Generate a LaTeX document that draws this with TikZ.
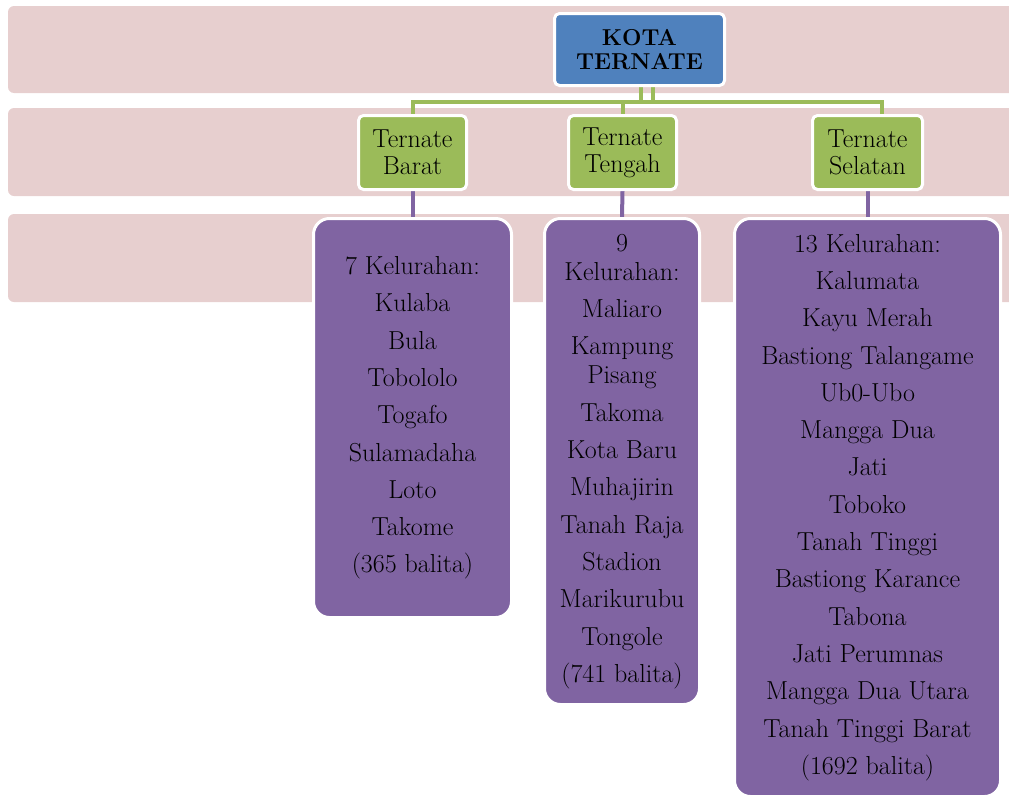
\documentclass[tikz,border=0pt]{standalone}
\usetikzlibrary{calc}
\definecolor{bandpink}{RGB}{231,207,207}
\definecolor{kotablue}{RGB}{79,129,189}
\definecolor{kecgreen}{RGB}{155,187,89}
\definecolor{kelpurple}{RGB}{128,100,162}
\pgfdeclarelayer{bands}
\pgfdeclarelayer{links}
\pgfsetlayers{bands,links,main}
\newcommand{\kbr}{\\[8.3pt]}
\tikzset{
	band/.style={fill=bandpink, rounded corners=6pt},
	kota/.style={draw=white, line width=3pt, fill=kotablue, rounded corners=5pt, align=center,
		font=\fontsize{23}{24.5}\selectfont\bfseries, minimum width=170pt, minimum height=72pt, inner sep=0pt},
	kec/.style={draw=white, line width=3pt, fill=kecgreen, rounded corners=5pt, align=center,
		font=\fontsize{26}{27}\selectfont, minimum width=108pt, minimum height=74pt, inner sep=0pt},
	kel/.style={draw=white, line width=3pt, fill=kelpurple, rounded corners=16pt, align=center,
		font=\fontsize{26}{29}\selectfont, inner sep=0pt},
	greenline/.style={draw=kecgreen, line width=4pt},
	purpleline/.style={draw=kelpurple, line width=4pt},
}

\begin{document}
\begin{tikzpicture}[x=1pt, y=-1pt]
	\useasboundingbox (0,0) rectangle (1009,798);
	\begin{pgfonlayer}{bands}
	\fill[band] (8,6) rectangle (1020,93);
	\fill[band] (8,108) rectangle (1020,196);
	\fill[band] (8,214) rectangle (1020,302);
	\end{pgfonlayer}
	%
	\node[kota] (kota) at (639.5,49.5) {KOTA\\TERNATE};
	%
	\node[kec] (barat) at (412.5,152.5) {Ternate\\Barat};
	\node[kec] (tengah) at (622.5,152.5) {Ternate\\Tengah};
	\node[kec, minimum width=110pt] (selatan) at (867.5,152.5) {Ternate\\Selatan};
	%
	\node[kel, minimum width=198pt, minimum height=399pt] (kelbarat) at (412.5,418) {7 Kelurahan:\kbr Kulaba\kbr Bula\kbr Tobololo\kbr Togafo\kbr Sulamadaha\kbr Loto\kbr Takome\kbr (365 balita)};
	\node[kel, minimum width=155pt, minimum height=486pt] (keltengah) at (622,461.5) {9\\Kelurahan:\kbr Maliaro\kbr Kampung\\Pisang\kbr Takoma\kbr Kota Baru\kbr Muhajirin\kbr Tanah Raja\kbr Stadion\kbr Marikurubu\kbr Tongole\kbr (741 balita)};
	\node[kel, minimum width=266pt, minimum height=578pt] (kelselatan) at (867.5,507.5) {13 Kelurahan:\kbr Kalumata\kbr Kayu Merah\kbr Bastiong Talangame\kbr Ub0-Ubo\kbr Mangga Dua\kbr Jati\kbr Toboko\kbr Tanah Tinggi\kbr Bastiong Karance\kbr Tabona\kbr Jati Perumnas\kbr Mangga Dua Utara\kbr Tanah Tinggi Barat\kbr (1692 balita)};
	%
	\coordinate (busL) at (412.5,102);
	\coordinate (busR) at (882,102);
	\begin{pgfonlayer}{links}
	\draw[greenline] (barat.north) -- (busL) -- (busR) -- (busR |- selatan.north);
	\draw[greenline] (tengah.north) -- (tengah.north |- busL);
	\draw[greenline] ([xshift=1.5pt]kota.south) -- ([xshift=1.5pt]kota.south |- busL);
	\draw[greenline] ([xshift=13.5pt]kota.south) -- ([xshift=13.5pt]kota.south |- busL);
	%
	\draw[purpleline] (barat.south) -- (kelbarat.north);
	\draw[purpleline] (tengah.south) -- (keltengah.north);
	\draw[purpleline] (selatan.south) -- (kelselatan.north);
	\end{pgfonlayer}
\end{tikzpicture}
\end{document}
